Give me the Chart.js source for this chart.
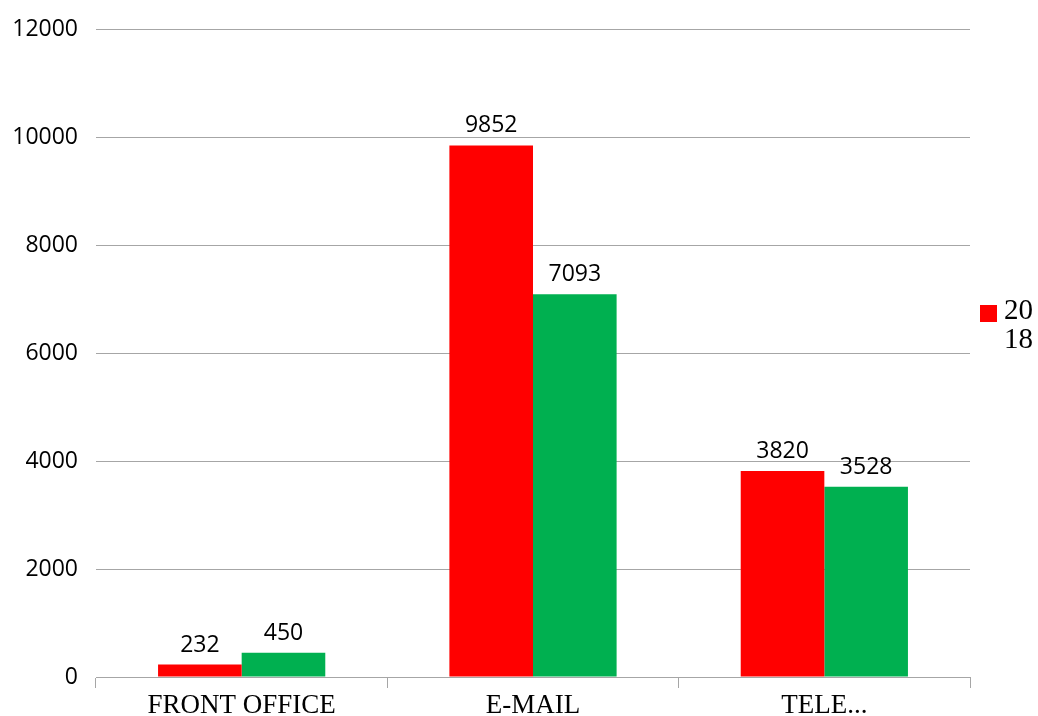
<!DOCTYPE html>
<html>
<head>
<meta charset="utf-8">
<script src="https://cdn.jsdelivr.net/npm/chart.js@4/dist/chart.umd.min.js"></script>
<style>
  html, body { margin: 0; padding: 0; background: #fff; }
  #wrap { width: 1038px; height: 716px; }
</style>
</head>
<body>
<div id="wrap"><canvas id="bar_chart" width="1038" height="716"></canvas></div>
<script>
const categories = ['FRONT OFFICE', 'E-MAIL', 'TELE...']
const series_2018 = [232, 9852, 3820]
const series_other = [450, 7093, 3528]
const y_ticks = [0, 2000, 4000, 6000, 8000, 10000, 12000]

// value labels above each bar
const value_labels = {
    id: 'value_labels',
    afterDatasetsDraw(chart)
    {
        const ctx = chart.ctx
        ctx.save()
        ctx.font = '23px "Open Sans", "Liberation Sans", sans-serif'
        ctx.fillStyle = '#000'
        ctx.textAlign = 'center'
        ctx.textBaseline = 'bottom'
        chart.data.datasets.forEach((ds, i) => {
            chart.getDatasetMeta(i).data.forEach((bar, j) => {
                ctx.fillText(ds.data[j], bar.x, bar.y - 8)
            })
        })
        ctx.restore()
    }
}

// legend on the right, only the first series shows, label wraps like the original
const side_legend = {
    id: 'side_legend',
    afterDraw(chart)
    {
        const ctx = chart.ctx
        const ds = chart.data.datasets[0]
        ctx.save()
        ctx.fillStyle = ds.backgroundColor
        ctx.fillRect(980, 305, 17, 17)
        ctx.fillStyle = '#000'
        ctx.font = '29px "Liberation Serif", serif'
        ctx.textAlign = 'left'
        ctx.textBaseline = 'middle'
        const txt = ds.label
        ctx.fillText(txt.slice(0, 2), 1004, 311)
        ctx.fillText(txt.slice(2), 1004, 340)
        ctx.restore()
    }
}

const ctx = document.getElementById('bar_chart').getContext('2d')

const bar_chart = new Chart(ctx,
    {
        type: 'bar',
        data: {
            labels: categories,
            datasets: [
                {
                    label: '2018',
                    data: series_2018,
                    backgroundColor: '#FF0000'
                },
                {
                    label: '',
                    data: series_other,
                    backgroundColor: '#00B050'
                }
            ]
        },
        options: {
            responsive: false,
            animation: false,
            layout: { padding: { top: 29, right: 68, left: 0, bottom: 0 } },
            categoryPercentage: 0.574,
            barPercentage: 1,
            plugins: {
                legend: { display: false },
                tooltip: { enabled: false }
            },
            scales: {
                x: {
                    grid: {
                        offset: true,
                        drawOnChartArea: false,
                        tickLength: 11,
                        color: '#a6a6a6'
                    },
                    border: { color: '#a6a6a6' },
                    ticks: {
                        color: '#000',
                        padding: 2,
                        maxRotation: 0,
                        font: { family: '"Liberation Serif", serif', size: 27 }
                    },
                    afterFit(scale) { scale.height = 39 }
                },
                y: {
                    min: 0,
                    max: 12000,
                    afterBuildTicks(scale) { scale.ticks = y_ticks.map(v => ({ value: v })) },
                    grid: { color: '#a6a6a6', drawTicks: false },
                    border: { display: false },
                    ticks: {
                        color: '#000',
                        padding: 18,
                        callback: v => String(v),
                        font: { family: '"Open Sans", "Liberation Sans", sans-serif', size: 23, lineHeight: 1 }
                    },
                    afterFit(scale) { scale.width = 96 }
                }
            }
        },
        plugins: [value_labels, side_legend]
    }
)
</script>
</body>
</html>
